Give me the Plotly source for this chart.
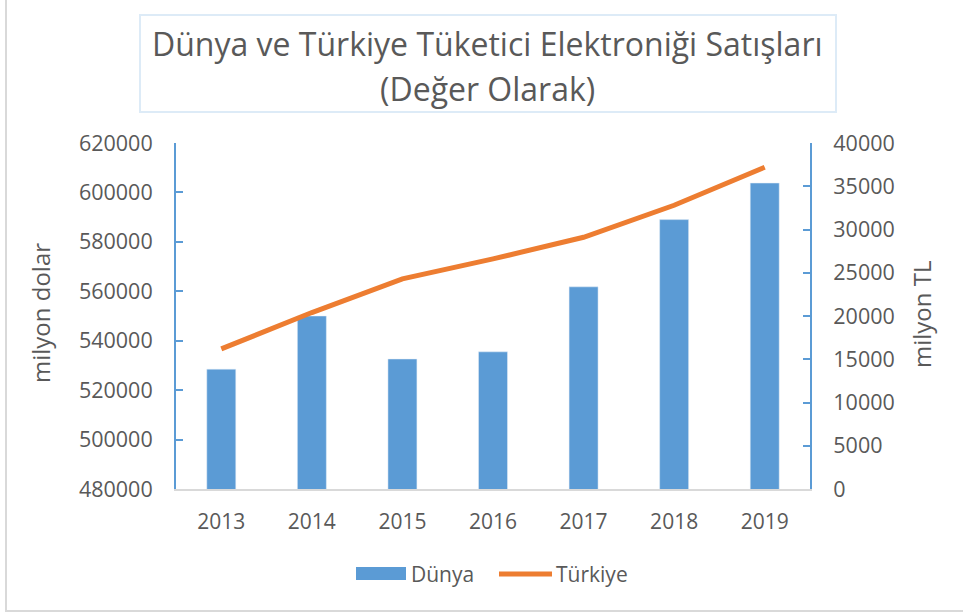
import plotly.graph_objects as go

years = ["2013", "2014", "2015", "2016", "2017", "2018", "2019"]
dunya = [528500, 550000, 532600, 535500, 561800, 589000, 603800]
turkiye = [16200, 20400, 24300, 26600, 29100, 32800, 37200]
left_ticks = [480000, 500000, 520000, 540000, 560000, 580000, 600000, 620000]
right_ticks = [0, 5000, 10000, 15000, 20000, 25000, 30000, 35000, 40000]

FONT = "Open Sans"
GRAY = "#595959"
BLUE = "#5B9BD5"
ORANGE = "#ED7D31"

W, H = 963, 613
L, R, T, B = 176, 153, 143, 124
pw, ph = W - L - R, H - T - B


def px(x):  # page pixel -> paper
    return (x - L) / pw


def py(y):
    return (T + ph - y) / ph


fig = go.Figure()
fig.add_trace(go.Bar(x=years, y=dunya, name="Dünya", marker=dict(color=BLUE),
                     yaxis="y", showlegend=False))
fig.add_trace(go.Scatter(x=years, y=turkiye, name="Türkiye", mode="lines",
                         line=dict(color=ORANGE, width=5), yaxis="y2", showlegend=False))

fig.update_layout(
    width=W, height=H,
    margin=dict(l=L, r=R, t=T, b=B),
    paper_bgcolor="white", plot_bgcolor="white",
    font=dict(family=FONT, color=GRAY, size=21),
    bargap=0.68,
    showlegend=False,
    xaxis=dict(showgrid=False, showline=True, linecolor="#D9D9D9", linewidth=2,
               ticks="", tickfont=dict(size=21), ticklabelstandoff=13),
    yaxis=dict(range=[480000, 620000], tickvals=left_ticks,
               ticktext=[str(v) for v in left_ticks], showgrid=False,
               showline=True, linecolor=BLUE, linewidth=2, ticks="inside",
               ticklen=7, tickcolor=BLUE, tickwidth=2, zeroline=False,
               tickfont=dict(size=21.5), ticklabelstandoff=17),
    yaxis2=dict(range=[0, 40000], tickvals=right_ticks,
                ticktext=[str(v) for v in right_ticks], overlaying="y", side="right",
                showgrid=False, showline=True, linecolor=BLUE, linewidth=2,
                ticks="inside", ticklen=7, tickcolor=BLUE, tickwidth=2, zeroline=False,
                tickfont=dict(size=21.5), ticklabelstandoff=17),
    shapes=[
        dict(type="rect", xref="paper", yref="paper",
             x0=px(140), x1=px(836), y0=py(112), y1=py(15),
             line=dict(color="#DDEBF7", width=2), fillcolor="rgba(0,0,0,0)"),
        dict(type="rect", xref="paper", yref="paper",
             x0=px(6), x1=px(975), y0=py(611), y1=py(-10),
             line=dict(color="#D9D9D9", width=2), fillcolor="rgba(0,0,0,0)"),
        # legend symbols
        dict(type="rect", xref="paper", yref="paper",
             x0=px(356), x1=px(406), y0=py(580), y1=py(567),
             line=dict(width=0), fillcolor=BLUE),
        dict(type="line", xref="paper", yref="paper",
             x0=px(499), x1=px(552), y0=py(574), y1=py(574),
             line=dict(color=ORANGE, width=5)),
    ],
    annotations=[
        dict(text="Dünya ve Türkiye Tüketici Elektroniği Satışları", xref="paper",
             yref="paper", x=px(487), y=py(44), showarrow=False,
             font=dict(size=32, color=GRAY, family=FONT), xanchor="center", yanchor="middle"),
        dict(text="(Değer Olarak)", xref="paper", yref="paper", x=px(487), y=py(88),
             showarrow=False, font=dict(size=32, color=GRAY, family=FONT),
             xanchor="center", yanchor="middle"),
        dict(text="milyon dolar", xref="paper", yref="paper", x=px(40), y=py(313),
             showarrow=False, textangle=-90, font=dict(size=24, color=GRAY),
             xanchor="center", yanchor="middle"),
        dict(text="milyon TL", xref="paper", yref="paper", x=px(921), y=py(314),
             showarrow=False, textangle=-90, font=dict(size=24, color=GRAY),
             xanchor="center", yanchor="middle"),
        dict(text="Dünya", xref="paper", yref="paper", x=px(409), y=py(574),
             showarrow=False, font=dict(size=21, color=GRAY),
             xanchor="left", yanchor="middle"),
        dict(text="Türkiye", xref="paper", yref="paper", x=px(554), y=py(574),
             showarrow=False, font=dict(size=21, color=GRAY),
             xanchor="left", yanchor="middle"),
    ],
)

fig.write_html("out.html", config={"displayModeBar": False},
               post_script="document.body.style.margin='0';document.body.style.padding='0';")
